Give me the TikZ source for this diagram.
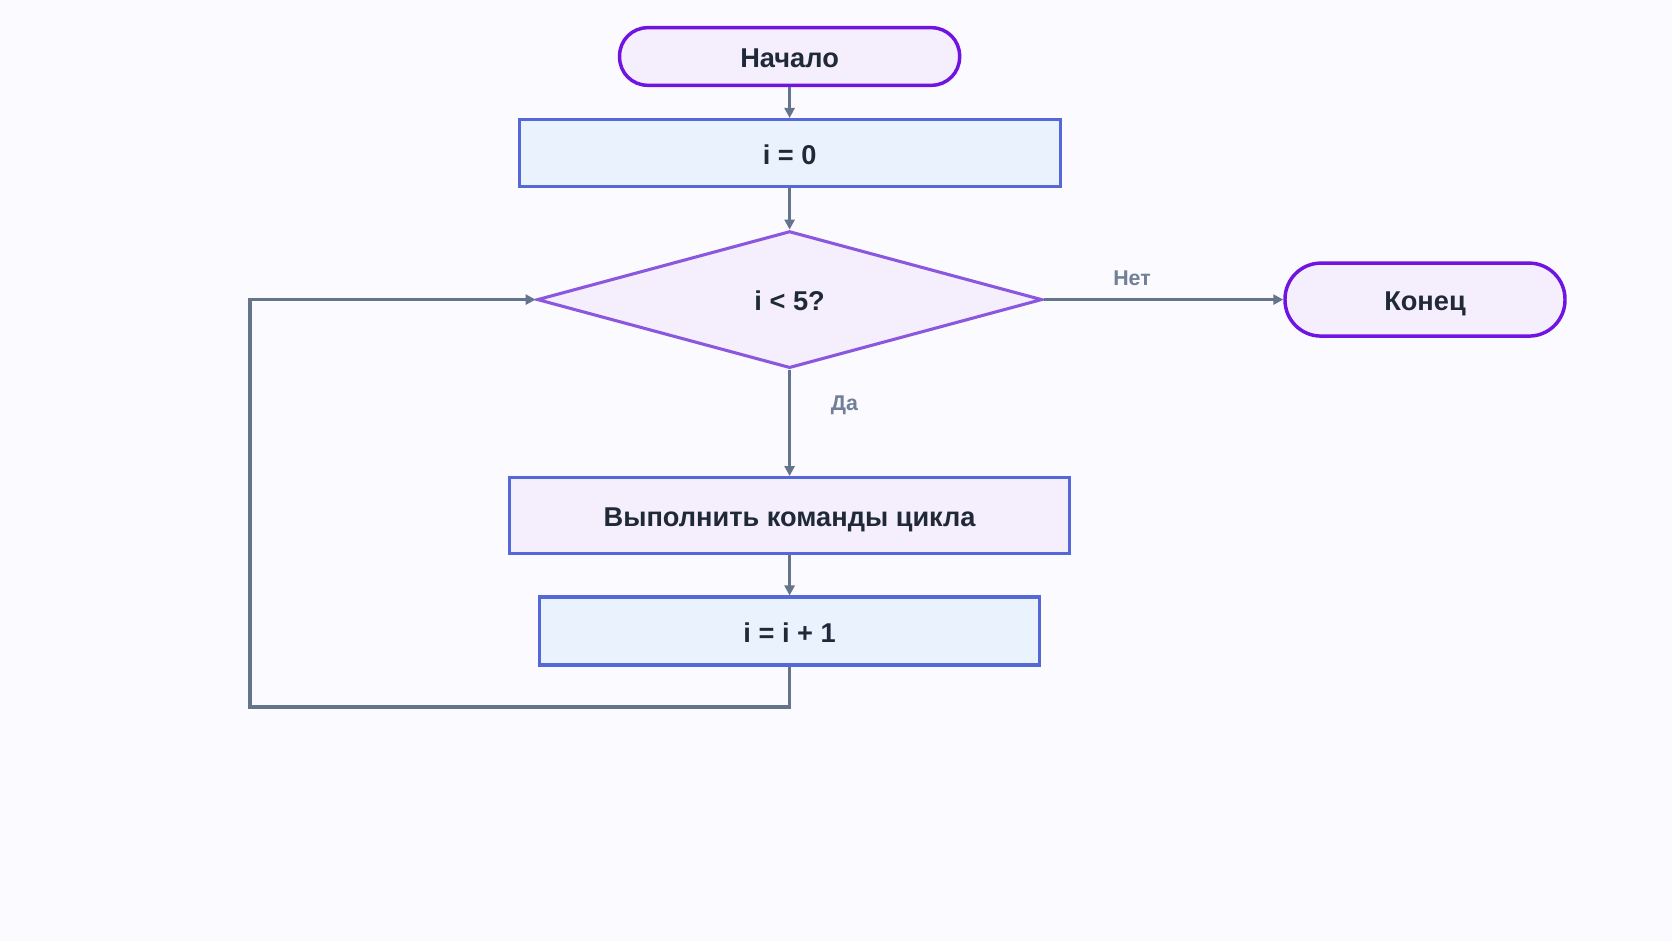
\documentclass[tikz,border=0pt]{standalone}
\usepackage{fontspec}
\setmainfont{Liberation Sans}
\usetikzlibrary{shapes.geometric,arrows.meta}
\definecolor{bgc}{RGB}{250,250,255}
\definecolor{termfill}{RGB}{244,238,253}
\definecolor{termdraw}{RGB}{112,20,225}
\definecolor{procdraw}{RGB}{84,104,216}
\definecolor{bluefill}{RGB}{234,242,254}
\definecolor{lavfill}{RGB}{244,238,253}
\definecolor{diadraw}{RGB}{139,87,222}
\definecolor{arrowc}{RGB}{100,116,139}
\definecolor{labc}{RGB}{113,128,150}
\definecolor{txtc}{RGB}{31,41,55}
\tikzset{
  base/.style={font=\fontsize{20.4}{24}\selectfont\bfseries, text=txtc, inner sep=0pt, text height=16.7pt, text depth=0pt},
  term/.style={base, draw=termdraw, fill=termfill, line width=2.6pt, rectangle},
  proc/.style={base, draw=procdraw, line width=2.3pt, rectangle},
  dec/.style={base, diamond, draw=diadraw, fill=lavfill, line width=2.3pt},
  conn/.style={draw=arrowc, line width=2.5pt, -{Triangle[length=7.5pt,width=7.5pt]}},
  lab/.style={font=\fontsize{16}{19}\selectfont\bfseries, text=labc, inner sep=0pt}
}
\begin{document}
\begin{tikzpicture}[x=0.75pt,y=-0.75pt]
\fill[bgc] (0,0) rectangle (1672,941);
\useasboundingbox (0,0) rectangle (1672,941);

\node[term, minimum width=255pt, minimum height=43.2pt, rounded corners=21pt] (start) at (789.6,56.5) {Начало};
\node[proc, fill=bluefill, minimum width=405.75pt, minimum height=50.25pt] (init) at (789.6,153) {i = 0};
\node[dec, minimum width=378.75pt, minimum height=102.75pt] (cond) at (789.6,299.6) {i < 5?};
\node[term, minimum width=210pt, minimum height=54.75pt, rounded corners=27pt] (stop) at (1425,299.6) {Конец};
\node[proc, fill=lavfill, minimum width=420pt, minimum height=57pt] (body) at (789.6,515.6) {Выполнить команды цикла};
\node[proc, fill=bluefill, minimum width=375pt, minimum height=51pt] (inc) at (789.6,631) {i = i + 1};

\coordinate (c1) at (789.6,707);
\coordinate (c2) at (250,707);
\coordinate (c3) at (250,299.6);

\draw[conn] (start.south) -- (init.north);
\draw[conn] (init.south) -- (cond.north);
\draw[conn] (cond.south) -- (body.north);
\draw[conn] (body.south) -- (inc.north);
\draw[conn] (cond.east) -- (stop.west);
\draw[conn] (inc.south) -- (c1) -- (c2) -- (c3) -- (cond.west);

\node[lab] (yes) at (844.5,405.5) {Да};
\node[lab] (no) at (1132,278.5) {Нет};
\end{tikzpicture}
\end{document}
